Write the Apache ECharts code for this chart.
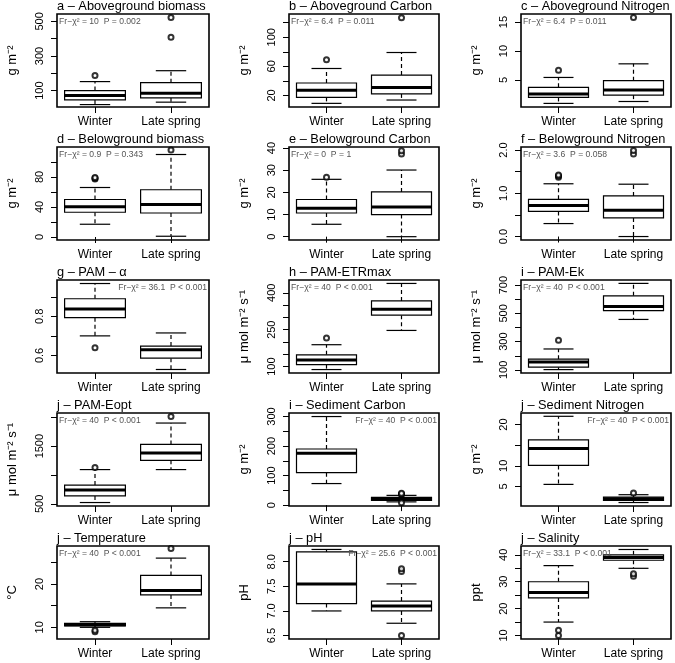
<!DOCTYPE html>
<html>
<head>
<meta charset="utf-8">
<script src="https://cdn.jsdelivr.net/npm/echarts@6/dist/echarts.min.js"></script>
<style>
  html, body { margin: 0; padding: 0; background: #fff; }
  #chart { width: 675px; height: 663px; }
</style>
</head>
<body>
<div id="chart"></div>
<script>
// groups on the x axis
const categories = ['Winter', 'Late spring'];

// box stats per group: [lower whisker, Q1, median, Q3, upper whisker]
const aboveBiomassBox = [[19, 46, 71, 100, 152], [33, 58, 85, 146, 215]];
const aboveBiomassOut = [[0, 187], [1, 408], [1, 523]];
const aboveCarbonBox = [[9, 17.3, 27, 37, 57], [13.6, 22, 31, 48, 79]];
const aboveCarbonOut = [[0, 69], [1, 127]];
const aboveNitrogenBox = [[0.97, 2.0, 2.6, 3.75, 5.45], [1.3, 2.4, 3.3, 4.9, 7.8]];
const aboveNitrogenOut = [[0, 6.7], [1, 15.8]];
const belowBiomassBox = [[17, 33, 40.4, 50, 66], [1, 32, 43.5, 63, 110]];
const belowBiomassOut = [[0, 77.5], [0, 78.5], [0, 79.5], [1, 116]];
const belowCarbonBox = [[5.6, 10.7, 12.8, 16.8, 25.9], [0, 10, 13.4, 20.2, 30.1]];
const belowCarbonOut = [[0, 26.8], [1, 37.3], [1, 38.8]];
const belowNitrogenBox = [[0.3, 0.58, 0.72, 0.86, 1.22], [0, 0.43, 0.61, 0.94, 1.21]];
const belowNitrogenOut = [[0, 1.37], [0, 1.4], [0, 1.42], [1, 1.91], [1, 1.99]];
const pamAlphaBox = [[0.70, 0.793, 0.838, 0.89, 0.968], [0.528, 0.586, 0.629, 0.648, 0.715]];
const pamAlphaOut = [[0, 0.639]];
const pamEtrBox = [[88, 108, 127, 148, 189], [247, 309, 333, 367, 438]];
const pamEtrOut = [[0, 216]];
const pamEkBox = [[102, 119, 155, 176, 248], [457, 519, 548, 624, 712]];
const pamEkOut = [[0, 310]];
const pamEoptBox = [[523, 637, 740, 826, 1094], [1094, 1254, 1380, 1529, 1900]];
const pamEoptOut = [[0, 1129], [1, 2014]];
const sedCarbonBox = [[73, 110, 176, 190, 300], [11, 16, 21, 26, 33]];
const sedCarbonOut = [[1, 8], [1, 36], [1, 38], [1, 40]];
const sedNitrogenBox = [[5.5, 10.1, 14.2, 16.3, 22], [1.1, 1.6, 2.0, 2.4, 3.0]];
const sedNitrogenOut = [[1, 3.4]];
const temperatureBox = [[10, 10.3, 10.6, 10.9, 11.3], [14.5, 17.5, 18.5, 22, 26]];
const temperatureOut = [[0, 9.0], [0, 9.3], [1, 28.2]];
const phBox = [[7.0, 7.15, 7.55, 8.2, 8.25], [6.75, 7.0, 7.1, 7.2, 7.55]];
const phOut = [[1, 6.5], [1, 7.8], [1, 7.86]];
const salinityBox = [[15, 24, 26, 30, 36], [35, 38, 39, 40, 42]];
const salinityOut = [[0, 10], [0, 12], [1, 32], [1, 33]];

const gm2 = 'g m⁻²';
const umol = 'μ mol m⁻² s⁻¹';

const panels = [
  { title: 'a – Aboveground biomass', box: aboveBiomassBox, out: aboveBiomassOut, unit: gm2, min: 5, max: 543,
    ticks: [100, 200, 300, 400, 500], labels: [100, 300, 500], dec: 0, stat: 'Fr−χ² = 10  P = 0.002', right: false },
  { title: 'b – Aboveground Carbon', box: aboveCarbonBox, out: aboveCarbonOut, unit: gm2, min: 4, max: 132,
    ticks: [20, 40, 60, 80, 100, 120], labels: [20, 60, 100], dec: 0, stat: 'Fr−χ² = 6.4  P = 0.011', right: false },
  { title: 'c – Aboveground Nitrogen', box: aboveNitrogenBox, out: aboveNitrogenOut, unit: gm2, min: 0.35, max: 16.4,
    ticks: [5, 10, 15], labels: [5, 10, 15], dec: 0, stat: 'Fr−χ² = 6.4  P = 0.011', right: false },
  { title: 'd – Belowground biomass', box: belowBiomassBox, out: belowBiomassOut, unit: gm2, min: -4, max: 120,
    ticks: [0, 20, 40, 60, 80, 100], labels: [0, 40, 80], dec: 0, stat: 'Fr−χ² = 0.9  P = 0.343', right: false },
  { title: 'e – Belowground Carbon', box: belowCarbonBox, out: belowCarbonOut, unit: gm2, min: -1.5, max: 40.5,
    ticks: [0, 10, 20, 30, 40], labels: [0, 10, 20, 30, 40], dec: 0, stat: 'Fr−χ² = 0  P = 1', right: false },
  { title: 'f – Belowground Nitrogen', box: belowNitrogenBox, out: belowNitrogenOut, unit: gm2, min: -0.08, max: 2.07,
    ticks: [0, 0.5, 1, 1.5, 2], labels: [0, 1, 2], dec: 1, stat: 'Fr−χ² = 3.6  P = 0.058', right: false },
  { title: 'g – PAM – α', box: pamAlphaBox, out: pamAlphaOut, unit: '', min: 0.51, max: 0.986,
    ticks: [0.6, 0.7, 0.8, 0.9], labels: [0.6, 0.8], dec: 1, stat: 'Fr−χ² = 36.1  P < 0.001', right: true },
  { title: 'h – PAM-ETRmax', box: pamEtrBox, out: pamEtrOut, unit: umol, min: 74, max: 452,
    ticks: [100, 150, 200, 250, 300, 350, 400], labels: [100, 250, 400], dec: 0, stat: 'Fr−χ² = 40  P < 0.001', right: false },
  { title: 'i – PAM-Ek', box: pamEkBox, out: pamEkOut, unit: umol, min: 78, max: 736,
    ticks: [100, 200, 300, 400, 500, 600, 700], labels: [100, 300, 500, 700], dec: 0, stat: 'Fr−χ² = 40  P < 0.001', right: false },
  { title: 'j – PAM-Eopt', box: pamEoptBox, out: pamEoptOut, unit: umol, min: 463, max: 2074,
    ticks: [500, 1000, 1500, 2000], labels: [500, 1500], dec: 0, stat: 'Fr−χ² = 40  P < 0.001', right: false },
  { title: 'i – Sediment Carbon', box: sedCarbonBox, out: sedCarbonOut, unit: gm2, min: -3, max: 312,
    ticks: [0, 50, 100, 150, 200, 250, 300], labels: [0, 100, 200, 300], dec: 0, stat: 'Fr−χ² = 40  P < 0.001', right: true },
  { title: 'j – Sediment Nitrogen', box: sedNitrogenBox, out: sedNitrogenOut, unit: gm2, min: 0.26, max: 22.8,
    ticks: [5, 10, 15, 20], labels: [5, 10, 20], dec: 0, stat: 'Fr−χ² = 40  P < 0.001', right: true },
  { title: 'j – Temperature', box: temperatureBox, out: temperatureOut, unit: '°C', min: 7.3, max: 28.8,
    ticks: [10, 15, 20, 25], labels: [10, 20], dec: 0, stat: 'Fr−χ² = 40  P < 0.001', right: false },
  { title: 'j – pH', box: phBox, out: phOut, unit: 'pH', min: 6.43, max: 8.32,
    ticks: [6.5, 7.0, 7.5, 8.0], labels: [6.5, 7.0, 7.5, 8.0], dec: 1, stat: 'Fr−χ² = 25.6  P < 0.001', right: true },
  { title: 'j – Salinity', box: salinityBox, out: salinityOut, unit: 'ppt', min: 8.7, max: 43.3,
    ticks: [10, 15, 20, 25, 30, 35, 40], labels: [10, 20, 30, 40], dec: 0, stat: 'Fr−χ² = 33.1  P < 0.001', right: false }
];

const colLeft = [57, 289, 521];
const colWidth = [152, 150, 150];
const rowTop = [14, 147, 280, 413, 546];
const plotH = 93;
const FONT = 'Liberation Sans, Arial, sans-serif';

function renderBox(params, api) {
  const x = api.value(0);
  const lo = api.coord([x, api.value(1)]);
  const q1 = api.coord([x, api.value(2)]);
  const md = api.coord([x, api.value(3)]);
  const q3 = api.coord([x, api.value(4)]);
  const hi = api.coord([x, api.value(5)]);
  const band = api.size([1, 0])[0];
  const hw = band * 0.4;
  const cw = hw * 0.5;
  const cx = md[0];
  const dash = { stroke: '#000', lineWidth: 1.2, lineDash: [4, 3] };
  const solid = { stroke: '#000', lineWidth: 1.2 };
  return {
    type: 'group',
    children: [
      { type: 'line', shape: { x1: cx, y1: q3[1], x2: cx, y2: hi[1] }, style: dash },
      { type: 'line', shape: { x1: cx, y1: q1[1], x2: cx, y2: lo[1] }, style: dash },
      { type: 'line', shape: { x1: cx - cw, y1: hi[1], x2: cx + cw, y2: hi[1] }, style: solid },
      { type: 'line', shape: { x1: cx - cw, y1: lo[1], x2: cx + cw, y2: lo[1] }, style: solid },
      { type: 'rect', shape: { x: cx - hw, y: q3[1], width: hw * 2, height: q1[1] - q3[1] },
        style: { fill: '#fff', stroke: '#000', lineWidth: 1.2 } },
      { type: 'line', shape: { x1: cx - hw, y1: md[1], x2: cx + hw, y2: md[1] },
        style: { stroke: '#000', lineWidth: 3 } }
    ]
  };
}

const grid = [], xAxis = [], yAxis = [], series = [], title = [], graphic = [];

panels.forEach((p, i) => {
  const r = Math.floor(i / 3), c = i % 3;
  const left = colLeft[c], top = rowTop[r], w = colWidth[c];
  grid.push({ left: left, top: top, width: w, height: plotH, show: true,
    borderColor: '#000', borderWidth: 1.6, backgroundColor: 'transparent' });
  xAxis.push({
    type: 'category', gridIndex: i, data: categories, boundaryGap: true,
    axisLine: { show: false },
    axisTick: { show: true, alignWithLabel: true, interval: 0, length: 6, lineStyle: { color: '#000' } },
    axisLabel: { color: '#000', fontSize: 12, fontFamily: FONT, margin: 9, interval: 0 },
    splitLine: { show: false }
  });
  yAxis.push({
    type: 'value', gridIndex: i, min: p.min, max: p.max,
    name: p.unit, nameLocation: 'middle', nameGap: 38, nameRotate: 90,
    nameTextStyle: { color: '#000', fontSize: 13, fontFamily: FONT },
    axisLine: { show: false },
    axisTick: { show: true, length: 6, customValues: p.ticks, lineStyle: { color: '#000' } },
    axisLabel: { show: true, rotate: 90, margin: 12, color: '#000', fontSize: 11, fontFamily: FONT,
      customValues: p.labels, formatter: v => Number(v).toFixed(p.dec) },
    splitLine: { show: false }
  });
  series.push({
    type: 'custom', xAxisIndex: i, yAxisIndex: i, renderItem: renderBox,
    encode: { x: 0, y: [1, 2, 3, 4, 5] },
    data: p.box.map((b, k) => [k].concat(b)), z: 2
  });
  series.push({
    type: 'scatter', xAxisIndex: i, yAxisIndex: i, symbol: 'emptyCircle', symbolSize: 5,
    itemStyle: { color: '#000', borderColor: '#000', borderWidth: 1 },
    data: p.out, z: 3
  });
  title.push({ text: p.title, left: left, top: top - 14, padding: 0,
    textStyle: { color: '#000', fontSize: 12.8, fontWeight: 'normal', fontFamily: FONT } });
  graphic.push({
    type: 'text', z: 10,
    left: p.right ? undefined : left + 2,
    right: p.right ? 675 - (left + w) + 2 : undefined,
    top: top + 3,
    style: { text: p.stat, fill: '#555', fontSize: 8.6, fontFamily: FONT }
  });
});

const chart = echarts.init(document.getElementById('chart'));
chart.setOption({
  backgroundColor: '#fff',
  animation: false,
  title: title,
  grid: grid,
  xAxis: xAxis,
  yAxis: yAxis,
  series: series,
  graphic: graphic
});
</script>
</body>
</html>
